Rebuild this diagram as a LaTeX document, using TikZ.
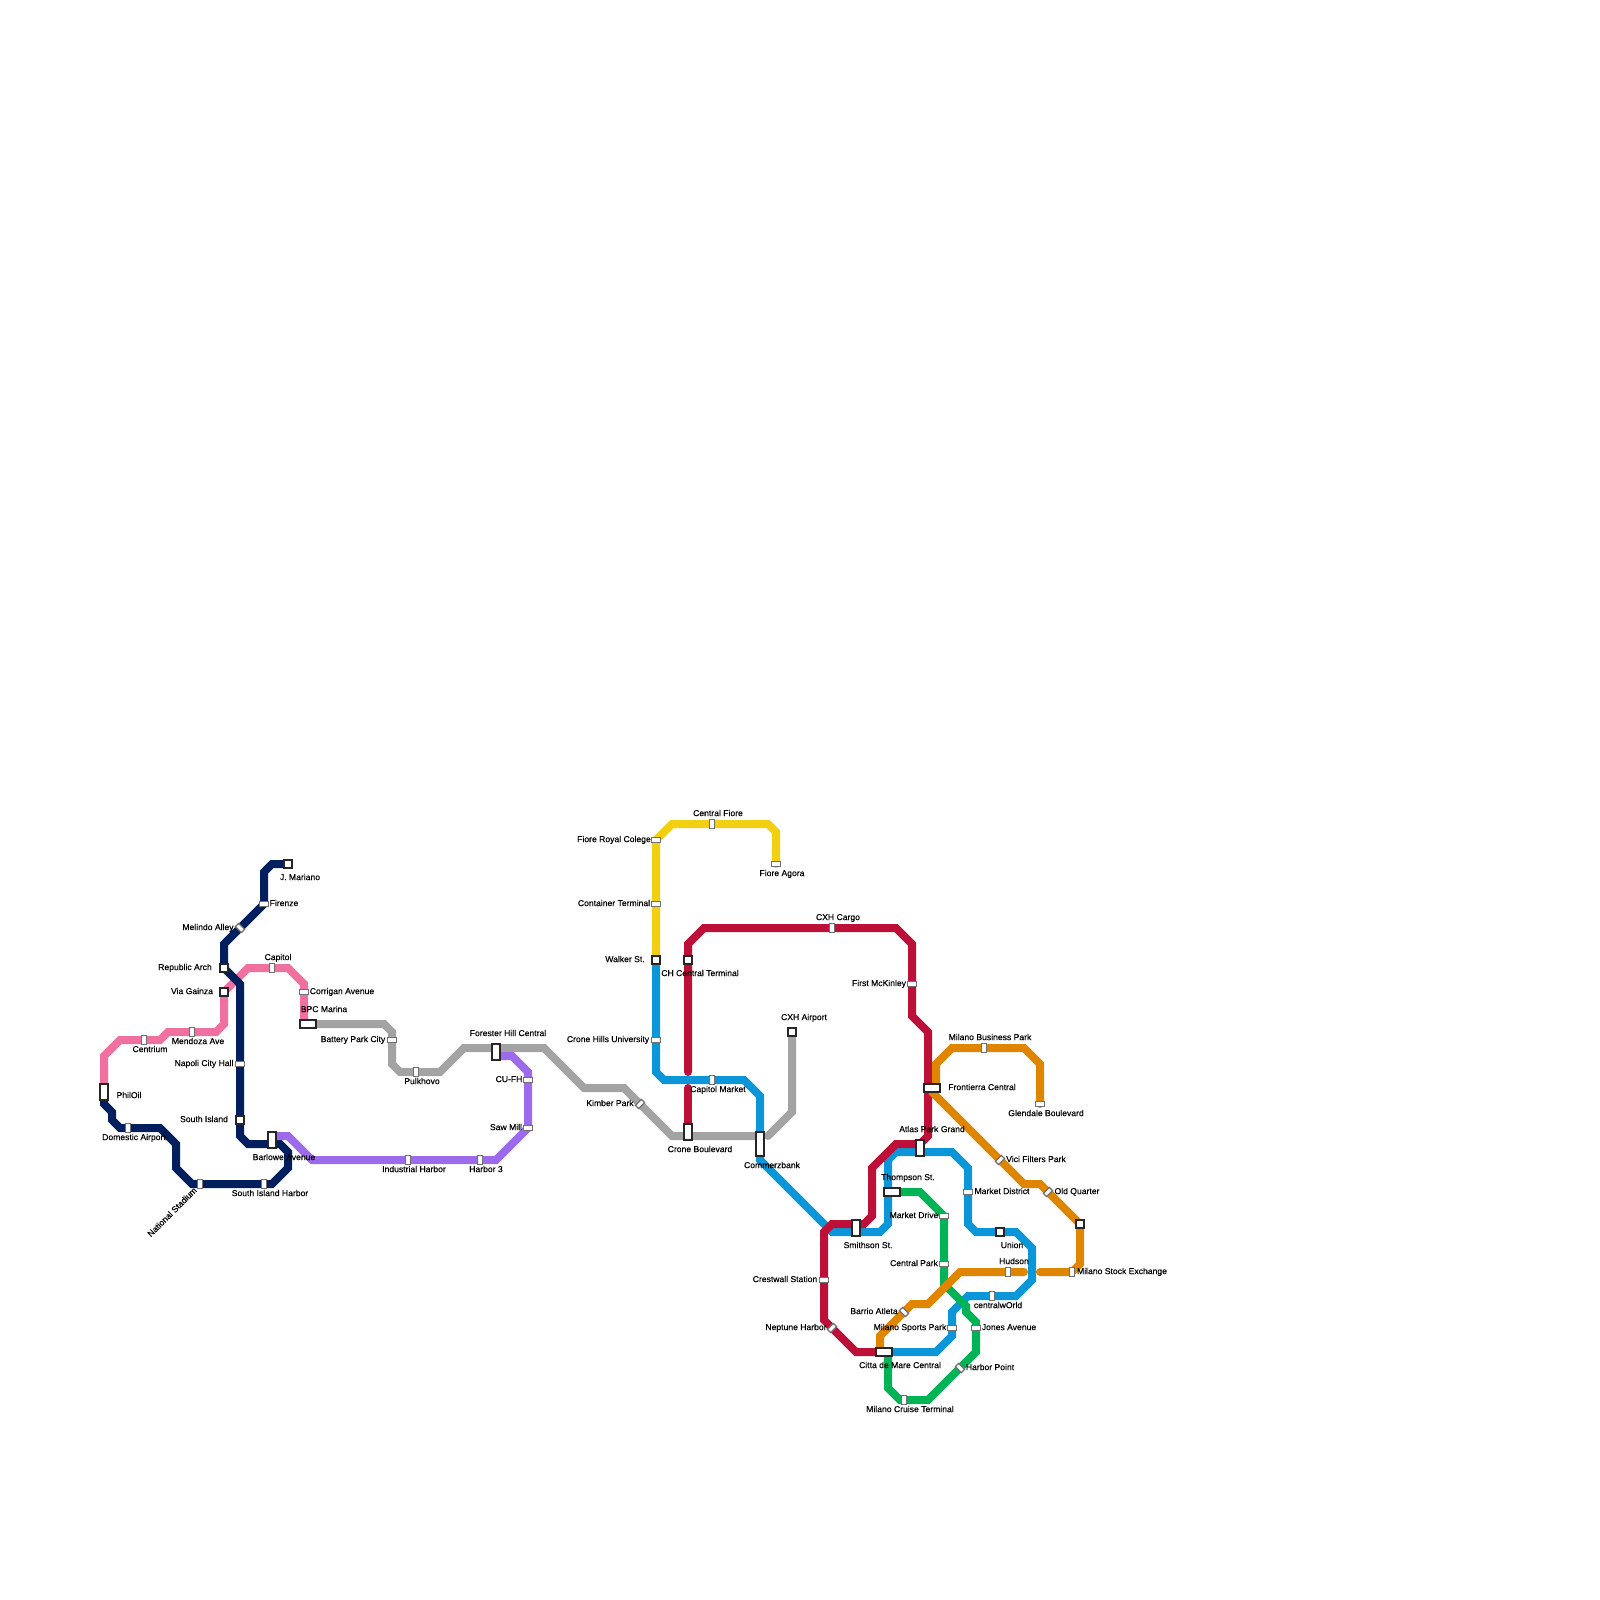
\documentclass[tikz,border=0pt]{standalone}
\usepackage{fontspec}
\setmainfont{Liberation Sans}
\newfontfamily\stnfont[FakeBold=0.35]{Liberation Sans}
\usepackage{xcolor}
\usepackage{tikz}
\usetikzlibrary{backgrounds}
\definecolor{lnavy}{HTML}{001F5C}
\definecolor{lpink}{HTML}{F070A0}
\definecolor{lgrey}{HTML}{A3A3A3}
\definecolor{lpurple}{HTML}{9B6BEB}
\definecolor{lyellow}{HTML}{F2CF10}
\definecolor{lblue}{HTML}{0A96D9}
\definecolor{lgreen}{HTML}{00B354}
\definecolor{lred}{HTML}{BD1038}
\definecolor{lorange}{HTML}{E08500}
\definecolor{edge}{HTML}{707070}
\tikzset{
  chan/.style ={line width=8pt, line cap=round, line join=miter},
  tickh/.style={rectangle, draw=edge, fill=white, line width=1.2pt, minimum width=8.5pt, minimum height=4.5pt, inner sep=0pt},
  tickv/.style={tickh, minimum width=4.5pt, minimum height=8.5pt},
  tickb/.style={tickh, rotate=-45},
  tickf/.style={tickh, rotate=45},
  hub/.style  ={rectangle, draw=black!85, fill=white, line width=1.5pt, minimum width=8pt, minimum height=8pt, inner sep=0pt},
  hubh/.style ={hub, minimum width=16pt},
  hubv/.style ={hub, minimum height=16pt},
  lbl/.style  ={inner sep=0pt, text height=6.2pt, text depth=0pt, font=\stnfont\fontsize{8.6}{10}\selectfont},
}
\begin{document}
\begin{tikzpicture}[x=1pt,y=-1pt]
\useasboundingbox (0,0) rectangle (1600,1600);
% stations
\node[hub]   (jmariano)  at (288,864)  {};
\node[tickh] (firenze)   at (264,904)  {};
\node[tickb] (melindo)   at (240,928)  {};
\node[hub]   (republic)  at (224,968)  {};
\node[hub]   (gainza)    at (224,992)  {};
\node[tickh] (napoli)    at (240,1064) {};
\node[hub]   (sisland)   at (240,1120) {};
\node[hubv]  (barlowe)   at (272,1140) {};
\node[tickv] (siharbor)  at (264,1184) {};
\node[tickv] (national)  at (200,1184) {};
\node[tickv] (domestic)  at (128,1128) {};
\node[hubv]  (philoil)   at (104,1092) {};
\node[tickv] (centrium)  at (144,1040) {};
\node[tickv] (mendoza)   at (192,1032) {};
\node[tickv] (capitol)   at (272,968)  {};
\node[tickh] (corrigan)  at (304,992)  {};
\node[hubh]  (bpc)       at (308,1024) {};
\node[tickh] (battery)   at (392,1040) {};
\node[tickv] (pulkhovo)  at (416,1072) {};
\node[hubv]  (forester)  at (496,1052) {};
\node[tickf] (kimber)    at (640,1104) {};
\node[hubv]  (croneb)    at (688,1132) {};
\node[hub, minimum height=24pt] (commerz) at (760,1144) {};
\node[hub]   (cxhair)    at (792,1032) {};
\node[tickh] (cufh)      at (528,1080) {};
\node[tickh] (sawmill)   at (528,1128) {};
\node[tickv] (harbor3)   at (480,1160) {};
\node[tickv] (industry)  at (408,1160) {};
\node[hub]   (walker)    at (656,960)  {};
\node[tickh] (container) at (656,904)  {};
\node[tickh] (royal)     at (656,840)  {};
\node[tickv] (cfiore)    at (712,824)  {};
\node[tickh] (agora)     at (776,864)  {};
\node[tickh] (cronehu)   at (656,1040) {};
\node[tickv] (capmarket) at (712,1080) {};
\node[hub]   (chcentral) at (688,960)  {};
\node[tickv] (cxhcargo)  at (832,928)  {};
\node[tickh] (mckinley)  at (912,984)  {};
\node[hubh]  (frontier)  at (932,1088) {};
\node[hubv]  (atlas)     at (920,1148) {};
\node[hubv]  (smithson)  at (856,1228) {};
\node[tickh] (crestwall) at (824,1280) {};
\node[tickf] (neptune)   at (832,1328) {};
\node[hubh]  (citta)     at (884,1352) {};
\node[hubh]  (thompson)  at (892,1192) {};
\node[tickh] (mdrive)    at (944,1216) {};
\node[tickh] (cpark)     at (944,1264) {};
\node[tickh] (jones)     at (976,1328) {};
\node[tickb] (hpoint)    at (960,1368) {};
\node[tickv] (cruise)    at (904,1400) {};
\node[tickh] (mdistrict) at (968,1192) {};
\node[hub]   (union)     at (1000,1232) {};
\node[tickv] (centralw)  at (992,1296) {};
\node[tickh] (msports)   at (952,1328) {};
\node[tickh] (glendale)  at (1040,1104) {};
\node[tickv] (mbiz)      at (984,1048) {};
\node[tickf] (vici)      at (1000,1160) {};
\node[tickf] (oldq)      at (1048,1192) {};
\node[hub]   (corner)    at (1080,1224) {};
\node[tickv] (stock)     at (1072,1272) {};
\node[tickv] (hudson)    at (1008,1272) {};
\node[tickb] (barrio)    at (904,1312) {};
% bends
\coordinate (nv1) at (272,864);   \coordinate (nv2) at (264,872);
\coordinate (nv3) at (224,944);   \coordinate (nv4) at (240,984);
\coordinate (nv5) at (240,1136);  \coordinate (nv6) at (248,1144);
\coordinate (nv7) at (280,1144);  \coordinate (nv8) at (288,1152);
\coordinate (nv9) at (288,1168);  \coordinate (nv10) at (272,1184);
\coordinate (nv11) at (192,1184); \coordinate (nv12) at (176,1168);
\coordinate (nv13) at (176,1144); \coordinate (nv14) at (160,1128);
\coordinate (nv15) at (120,1128); \coordinate (nv16) at (112,1120);
\coordinate (nv17) at (112,1112); \coordinate (nv18) at (104,1104);
\coordinate (pk1) at (248,968);   \coordinate (pk2) at (288,968);
\coordinate (pk3) at (304,984);   \coordinate (pk4) at (224,1024);
\coordinate (pk5) at (216,1032);  \coordinate (pk6) at (168,1032);
\coordinate (pk7) at (160,1040);  \coordinate (pk8) at (120,1040);
\coordinate (pk9) at (104,1056);  \coordinate (pk10) at (304,1024);
\coordinate (gy1) at (384,1024);  \coordinate (gy2) at (392,1032);
\coordinate (gy3) at (392,1064);  \coordinate (gy4) at (400,1072);
\coordinate (gy5) at (440,1072);  \coordinate (gy6) at (464,1048);
\coordinate (gy7) at (544,1048);  \coordinate (gy8) at (584,1088);
\coordinate (gy9) at (624,1088);  \coordinate (gy10) at (672,1136);
\coordinate (gy11) at (756,1136); \coordinate (gy12) at (768,1136);
\coordinate (gy13) at (792,1112);
\coordinate (pu0) at (272,1136);  \coordinate (pu1) at (288,1136);
\coordinate (pu2) at (312,1160);  \coordinate (pu3) at (496,1160);
\coordinate (pu4) at (528,1072);  \coordinate (pu5) at (512,1056);
\coordinate (pu6) at (496,1056);
\coordinate (ye1) at (672,824);   \coordinate (ye2) at (768,824);
\coordinate (ye3) at (776,832);
\coordinate (bl1) at (656,1072);  \coordinate (bl2) at (664,1080);
\coordinate (bl3) at (744,1080);  \coordinate (bl4) at (760,1096);
\coordinate (bl5) at (760,1160);  \coordinate (bl6) at (832,1232);
\coordinate (bl7) at (880,1232);  \coordinate (bl8) at (888,1224);
\coordinate (bl9) at (888,1160);  \coordinate (bl10) at (896,1152);
\coordinate (bl11) at (952,1152); \coordinate (bl12) at (968,1168);
\coordinate (bl13) at (968,1224); \coordinate (bl14) at (976,1232);
\coordinate (bl15) at (1016,1232);\coordinate (bl16) at (1032,1248);
\coordinate (bl17) at (1032,1280);\coordinate (bl18) at (1016,1296);
\coordinate (bl19) at (968,1296); \coordinate (bl20) at (952,1312);
\coordinate (bl21) at (952,1336); \coordinate (bl22) at (936,1352);
\coordinate (gn1) at (920,1192);  \coordinate (gn2) at (944,1216);
\coordinate (gn3) at (944,1284);  \coordinate (gn4) at (966,1306);
\coordinate (gn5) at (966,1312);  \coordinate (gn6) at (976,1322);
\coordinate (gn7) at (976,1352);  \coordinate (gn8) at (928,1400);
\coordinate (gn9) at (900,1400);  \coordinate (gn10) at (888,1388);
\coordinate (gn11) at (888,1352);
\coordinate (rd1) at (688,944);   \coordinate (rd2) at (704,928);
\coordinate (rd3) at (896,928);   \coordinate (rd4) at (912,944);
\coordinate (rd5) at (912,1016);  \coordinate (rd6) at (928,1032);
\coordinate (rd7) at (928,1136);  \coordinate (rd8) at (920,1144);
\coordinate (rd9) at (896,1144);  \coordinate (rd10) at (872,1168);
\coordinate (rd11) at (872,1216); \coordinate (rd12) at (864,1224);
\coordinate (rd14) at (832,1224);
\coordinate (rd15) at (824,1232); \coordinate (rd16) at (824,1320);
\coordinate (rd17) at (856,1352); \coordinate (rd18) at (688,1072);
\coordinate (rd19) at (688,1088);
\coordinate (or1) at (1040,1064); \coordinate (or2) at (1024,1048);
\coordinate (or3) at (952,1048);  \coordinate (or4) at (936,1064);
\coordinate (or5) at (936,1088);  \coordinate (or5b) at (932,1092);
\coordinate (or6) at (1024,1184);
\coordinate (or7) at (1040,1184); \coordinate (or8) at (1080,1264);
\coordinate (or9) at (1072,1272); \coordinate (or10) at (1040,1272);
\coordinate (or11) at (1024,1272);\coordinate (or12) at (960,1272);
\coordinate (or13) at (928,1304); \coordinate (or14) at (912,1304);
\coordinate (or15) at (880,1336); \coordinate (or16) at (880,1352);
% lines
\begin{scope}[on background layer]
\draw[chan, lgrey] (bpc.center) -- (gy1) -- (gy2) -- (gy3) -- (gy4) -- (gy5) -- (gy6) -- (gy7) -- (gy8) -- (gy9) -- (gy10) -- (gy11);
\draw[chan, lgrey] (gy12) -- (gy13) -- (cxhair.center);
\draw[chan, lpink] (gainza.center) -- (pk1) -- (pk2) -- (pk3) -- (pk10);
\draw[chan, lpink] (gainza.center) -- (pk4) -- (pk5) -- (pk6) -- (pk7) -- (pk8) -- (pk9) -- (philoil.center);
\draw[chan, lnavy] (jmariano.center) -- (nv1) -- (nv2) -- (firenze.center) -- (nv3) -- (republic.center) -- (nv4) -- (nv5) -- (nv6) -- (nv7) -- (nv8) -- (nv9) -- (nv10) -- (nv11) -- (nv12) -- (nv13) -- (nv14) -- (nv15) -- (nv16) -- (nv17) -- (nv18) -- (philoil.center);
\draw[chan, lpurple] (pu0) -- (pu1) -- (pu2) -- (pu3) -- (sawmill.center) -- (pu4) -- (pu5) -- (pu6);
\draw[chan, lyellow] (walker.center) -- (royal.center) -- (ye1) -- (ye2) -- (ye3) -- (agora.center);
\draw[chan, lblue] (walker.center) -- (bl1) -- (bl2) -- (bl3) -- (bl4) -- (bl5) -- (bl6) -- (bl7) -- (bl8) -- (bl9) -- (bl10) -- (bl11) -- (bl12) -- (bl13) -- (bl14) -- (bl15) -- (bl16) -- (bl17) -- (bl18) -- (bl19) -- (bl20) -- (bl21) -- (bl22) -- (citta.center);
\draw[chan, lgreen] (thompson.center) -- (gn1) -- (gn2) -- (gn3) -- (gn4) -- (gn5) -- (gn6) -- (gn7) -- (gn8) -- (gn9) -- (gn10) -- (gn11);
\draw[chan, lred] (rd18) -- (chcentral.center) -- (rd1) -- (rd2) -- (rd3) -- (rd4) -- (rd5) -- (rd6) -- (rd7) -- (rd8) -- (rd9) -- (rd10) -- (rd11) -- (rd12) -- (rd14) -- (rd15) -- (rd16) -- (rd17) -- (citta.center);
\draw[chan, lred] (rd19) -- (croneb.center);
\draw[chan, lorange] (glendale.center) -- (or1) -- (or2) -- (or3) -- (or4) -- (or5);
\draw[chan, lorange] (or5b) -- (or6) -- (or7) -- (corner.center) -- (or8) -- (or9) -- (or10);
\draw[chan, lorange] (or11) -- (or12) -- (or13) -- (or14) -- (or15) -- (or16);
\end{scope}
% labels
\node[lbl] (tjmariano)  at (300,877)  {J. Mariano};
\node[lbl] (tfirenze)   at (284,903)  {Firenze};
\node[lbl] (tmelindo)   at (208,927)  {Melindo Alley};
\node[lbl] (tcapitol)   at (278,957)  {Capitol};
\node[lbl] (trepublic)  at (185,967)  {Republic Arch};
\node[lbl] (tgainza)    at (192,991)  {Via Gainza};
\node[lbl] (tcorrigan)  at (342,991)  {Corrigan Avenue};
\node[lbl] (tbpc)       at (324,1009) {BPC Marina};
\node[lbl] (tbattery)   at (353,1039) {Battery Park City};
\node[lbl] (tmendoza)   at (198,1041) {Mendoza Ave};
\node[lbl] (tcentrium)  at (150,1049) {Centrium};
\node[lbl] (tnapoli)    at (204,1063) {Napoli City Hall};
\node[lbl] (tphiloil)   at (129,1095) {PhilOil};
\node[lbl] (tsisland)   at (204,1119) {South Island};
\node[lbl] (tdomestic)  at (134,1137) {Domestic Airport};
\node[lbl] (tbarlowe)   at (284,1157) {Barlowe Avenue};
\node[lbl] (tsiharbor)  at (270,1193) {South Island Harbor};
\node[lbl, rotate=45] (tnational) at (172,1212) {National Stadium};
\node[lbl] (tforester)  at (508,1033) {Forester Hill Central};
\node[lbl] (tpulkhovo)  at (422,1081) {Pulkhovo};
\node[lbl] (tcufh)      at (509,1079) {CU-FH};
\node[lbl] (tsawmill)   at (506,1127) {Saw Mill};
\node[lbl] (tkimber)    at (610,1103) {Kimber Park};
\node[lbl] (tindustry)  at (414,1169) {Industrial Harbor};
\node[lbl] (tharbor3)   at (486,1169) {Harbor 3};
\node[lbl] (tcfiore)    at (718,813)  {Central Fiore};
\node[lbl] (troyal)     at (614,839)  {Fiore Royal Colege};
\node[lbl] (tagora)     at (782,873)  {Fiore Agora};
\node[lbl] (tcontainer) at (614,903)  {Container Terminal};
\node[lbl] (tcxhcargo)  at (838,917)  {CXH Cargo};
\node[lbl] (twalker)    at (625,959)  {Walker St.};
\node[lbl] (tchcentral) at (700,973)  {CH Central Terminal};
\node[lbl] (tmckinley)  at (879,983)  {First McKinley};
\node[lbl] (tcxhair)    at (804,1017) {CXH Airport};
\node[lbl] (tcronehu)   at (608,1039) {Crone Hills University};
\node[lbl] (tcapmarket) at (718,1089) {Capitol Market};
\node[lbl] (tcroneb)    at (700,1149) {Crone Boulevard};
\node[lbl] (tcommerz)   at (772,1165) {Commerzbank};
\node[lbl] (tatlas)     at (932,1129) {Atlas Park Grand};
\node[lbl] (tthompson)  at (908,1177) {Thompson St.};
\node[lbl] (tmdrive)    at (914,1215) {Market Drive};
\node[lbl] (tsmithson)  at (868,1245) {Smithson St.};
\node[lbl] (tcpark)     at (914,1263) {Central Park};
\node[lbl] (tcrestwall) at (785,1279) {Crestwall Station};
\node[lbl] (tbarrio)    at (874,1311) {Barrio Atleta};
\node[lbl] (tmsports)   at (910,1327) {Milano Sports Park};
\node[lbl] (tneptune)   at (796,1327) {Neptune Harbor};
\node[lbl] (tcitta)     at (900,1365) {Citta de Mare Central};
\node[lbl] (tcruise)    at (910,1409) {Milano Cruise Terminal};
\node[lbl] (tmbiz)      at (990,1037) {Milano Business Park};
\node[lbl] (tfrontier)  at (982,1087) {Frontierra Central};
\node[lbl] (tglendale)  at (1046,1113) {Glendale Boulevard};
\node[lbl] (tvici)      at (1036,1159) {Vici Filters Park};
\node[lbl] (tmdistrict) at (1002,1191) {Market District};
\node[lbl] (toldq)      at (1077,1191) {Old Quarter};
\node[lbl] (tunion)     at (1012,1245) {Union};
\node[lbl] (thudson)    at (1014,1261) {Hudson};
\node[lbl] (tstock)     at (1122,1271) {Milano Stock Exchange};
\node[lbl] (tcentralw)  at (998,1305) {centralwOrld};
\node[lbl] (tjones)     at (1009,1327) {Jones Avenue};
\node[lbl] (thpoint)    at (990,1367) {Harbor Point};
\end{tikzpicture}
\end{document}
